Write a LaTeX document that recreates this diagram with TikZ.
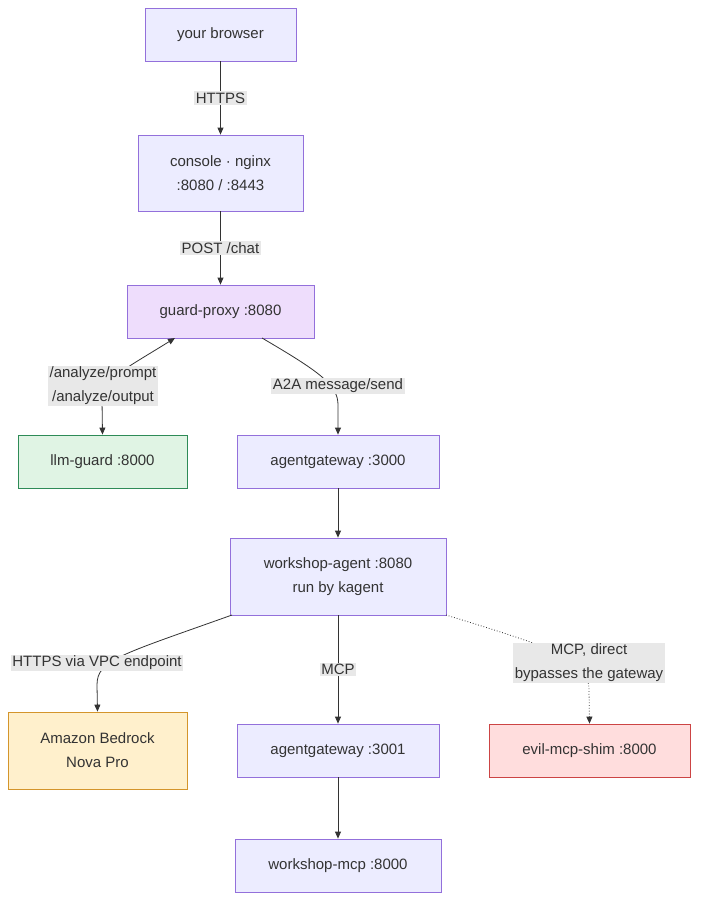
\documentclass[tikz,border=0pt]{standalone}
\usepackage{fontspec}
\setmainfont{Liberation Sans}
\usetikzlibrary{arrows.meta}
\definecolor{nfill}{HTML}{ECECFF}
\definecolor{nline}{HTML}{9370DB}
\definecolor{gfill}{HTML}{EEDDFC}
\definecolor{lgfill}{HTML}{E0F4E4}
\definecolor{lgline}{HTML}{2E8B57}
\definecolor{bfill}{HTML}{FFF0CC}
\definecolor{bline}{HTML}{D4952B}
\definecolor{efill}{HTML}{FFDDDD}
\definecolor{eline}{HTML}{CC4444}
\definecolor{lbl}{HTML}{E8E8E8}
\definecolor{txt}{HTML}{333333}
\begin{document}
\begin{tikzpicture}[x=1pt,y=-1pt,
  box/.style={draw=nline,fill=nfill,line width=0.8pt,text=txt,font=\fontsize{15}{24}\selectfont,align=center,inner sep=0pt},
  edge/.style={draw=txt,line width=0.8pt,-{Triangle[length=7pt,width=6pt]}},
  lab/.style={fill=lbl,text=txt,font=\fontsize{15}{24}\selectfont,align=center,inner sep=1.5pt}]
\useasboundingbox (0,0) rectangle (706,910);
\node[box,minimum width=151,minimum height=53] (br) at (220.5,34.5) {your browser};
\node[box,minimum width=165,minimum height=76] (co) at (220.5,173) {console · nginx\\:8080 / :8443};
\node[box,fill=gfill,minimum width=187,minimum height=53] (gp) at (220.5,311.5) {guard-proxy :8080};
\node[box,fill=lgfill,draw=lgline,minimum width=169,minimum height=53] (lg) at (102.5,461.5) {llm-guard :8000};
\node[box,minimum width=202,minimum height=53] (ag1) at (338,461.5) {agentgateway :3000};
\node[box,minimum width=216,minimum height=77] (wa) at (338,576.5) {workshop-agent :8080\\run by kagent};
\node[box,fill=bfill,draw=bline,minimum width=179,minimum height=77] (bd) at (97.5,750.5) {Amazon Bedrock\\Nova Pro};
\node[box,minimum width=202,minimum height=53] (ag2) at (338,750.5) {agentgateway :3001};
\node[box,fill=efill,draw=eline,minimum width=201,minimum height=53] (ev) at (589.5,750.5) {evil-mcp-shim :8000};
\node[box,minimum width=206,minimum height=53] (mc) at (338,865.5) {workshop-mcp :8000};
\draw[edge] (br) -- (co) node[lab,midway] (l1) {HTTPS};
\draw[edge] (co) -- (gp) node[lab,midway] (l2) {POST /chat};
\coordinate (g1) at (175,338);
\coordinate (g2) at (262,338);
\coordinate (w1) at (232,615);
\coordinate (w2) at (446,615);
\draw[edge,{Triangle[length=7pt,width=6pt]}-{Triangle[length=7pt,width=6pt]}] (g1) .. controls (120,372) and (102,380) .. (102,400) -- (lg.north);
\node[lab] (l3) at (103,386) {/analyze/prompt\\/analyze/output};
\draw[edge] (g2) .. controls (320,372) and (338,385) .. (338,405) -- (ag1.north);
\node[lab] (l4) at (338,386) {A2A message/send};
\draw[edge] (ag1) -- (wa);
\draw[edge] (w1) .. controls (120,655) and (97,660) .. (97,685) -- (bd.north);
\node[lab] (l5) at (97,663) {HTTPS via VPC endpoint};
\draw[edge] (wa) -- (ag2) node[lab,midway] (l6) {MCP};
\draw[edge,dotted] (w2) .. controls (560,650) and (589,660) .. (589,690) -- (ev.north);
\node[lab] (l7) at (589,663) {MCP, direct\\bypasses the gateway};
\draw[edge] (ag2) -- (mc);
\end{tikzpicture}
\end{document}
